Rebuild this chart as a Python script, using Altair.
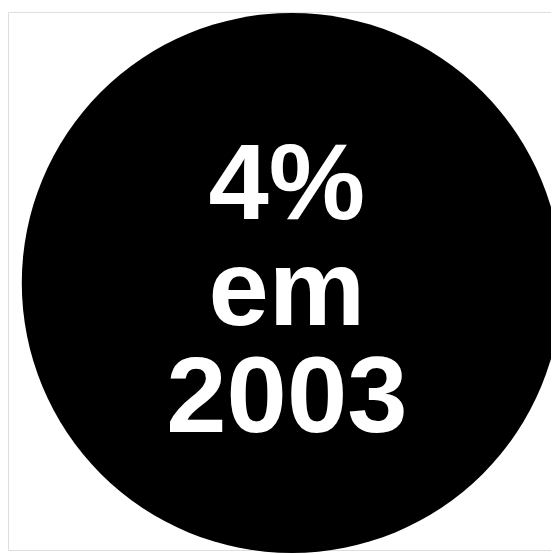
import altair as alt
import pandas as pd

# Content of the badge
lines = ["4%", "em", "2003"]
labels = ["\n".join(lines)]

df = pd.DataFrame({"label": labels})

W, H = 551, 546
DIAM = 548

circle = alt.Chart(df).mark_circle(color="#000000", opacity=1).encode(
    x=alt.value(288),
    y=alt.value(275),
    size=alt.value(DIAM * DIAM),
)

text = alt.Chart(df).mark_text(
    color="#ffffff",
    font="Liberation Sans, Arial, Helvetica, sans-serif",
    fontWeight="bold",
    fontSize=110,
    align="center",
    baseline="alphabetic",
    lineBreak="\n",
    lineHeight=108,
).encode(
    x=alt.value(283),
    y=alt.value(210),
    text="label:N",
)

chart = alt.layer(circle, text).properties(
    width=W, height=H, padding=0, autosize=alt.AutoSizeParams(type="none")
).configure_view(stroke=None).configure(background="#ffffff")

chart.save("out.html", embed_options={"renderer": "svg", "actions": False})
